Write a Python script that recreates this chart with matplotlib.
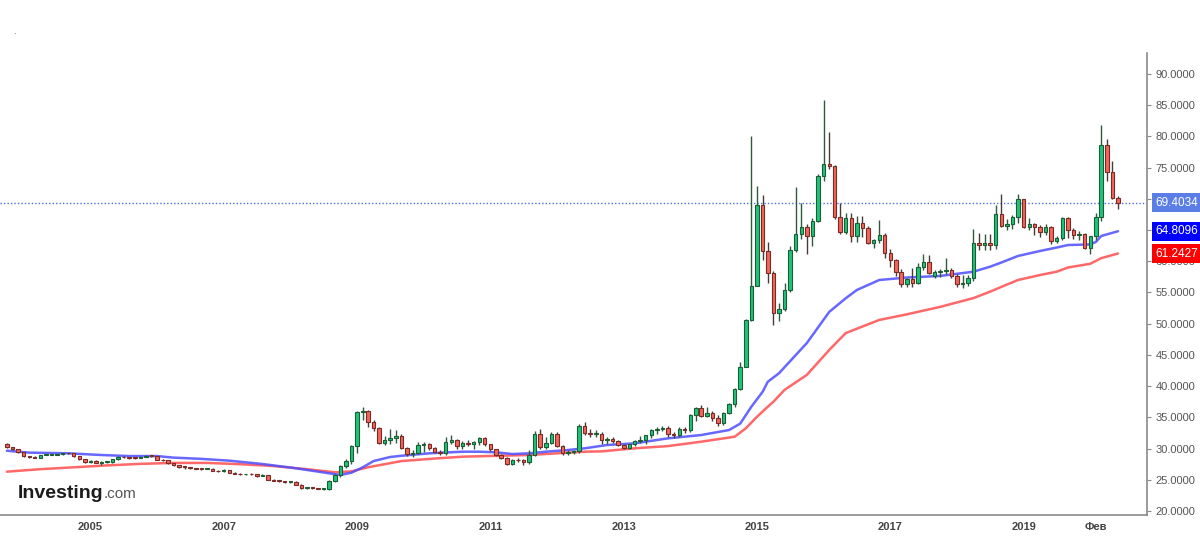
import matplotlib
matplotlib.use("Agg")
import matplotlib.pyplot as plt
import matplotlib.dates as mdates
import pandas as pd
import numpy as np

plt.rcParams['font.family'] = ['Liberation Sans', 'DejaVu Sans']

start_month = "2003-10"
opens = [
    30.70, 30.20, 29.95,
    29.40, 28.75, 28.65, 28.55, 29.00, 29.05, 29.05, 29.15, 29.25, 29.22, 28.75, 28.25,
    27.85, 27.95, 27.75, 27.80, 27.82, 28.25, 28.70, 28.60, 28.55, 28.50, 28.70, 28.85,
    28.80, 28.20, 28.10, 27.70, 27.30, 27.10, 27.05, 26.85, 26.80, 26.75, 26.80, 26.45,
    26.35, 26.50, 26.15, 26.00, 25.85, 25.90, 25.85, 25.65, 25.75, 25.00, 24.85, 24.80,
    24.60, 24.70, 24.20, 23.65, 23.75, 23.65, 23.50, 23.52, 24.85, 25.75, 27.20, 28.00,
    30.35, 35.80, 35.95, 34.20, 33.25, 30.85, 31.40, 31.65, 32.00, 30.10, 29.10, 29.35,
    30.55, 30.70, 30.05, 29.50, 29.25, 31.10, 31.35, 30.40, 30.90, 30.70, 31.05, 31.65,
    30.70, 29.90, 29.00, 28.55, 27.55, 28.20, 28.10, 27.85, 29.00, 32.40, 30.20, 30.95,
    32.40, 30.40, 29.25, 29.40, 29.55, 33.55, 32.45, 32.30, 32.40, 31.40, 31.55, 31.20,
    30.60, 30.15, 30.70, 31.15, 31.40, 32.15, 33.00, 33.10, 33.35, 32.40, 32.20, 33.20,
    32.90, 35.35, 36.50, 35.20, 35.75, 34.95, 34.05, 35.75, 37.10, 39.60, 43.10, 50.60,
    56.10, 69.00, 61.70, 58.20, 51.75, 52.35, 55.40, 61.80, 64.40, 65.55, 64.05, 66.50,
    73.65, 75.60, 75.25, 67.15, 64.75, 66.90, 64.05, 66.10, 65.40, 62.90, 63.40, 64.15,
    61.40, 60.20, 58.35, 56.30, 57.10, 56.55, 59.10, 59.90, 57.60, 58.25, 58.40, 58.55,
    57.70, 56.30, 56.45, 57.25, 63.00, 62.60, 62.90, 62.55, 67.60, 65.65, 65.95, 67.05,
    69.95, 65.55, 65.90, 65.45, 64.75, 65.55, 63.30, 63.80, 66.90, 65.00, 64.15, 64.35,
    62.20, 64.05, 67.05, 78.60, 74.35, 70.10,
]
highs = [
    30.85, 30.30, 30.00,
    29.45, 28.85, 28.75, 29.05, 29.10, 29.15, 29.20, 29.30, 29.30, 29.25, 28.80, 28.30,
    28.20, 28.10, 27.95, 28.00, 28.30, 28.80, 28.85, 28.70, 28.65, 28.75, 28.95, 28.95,
    28.85, 28.30, 28.15, 27.75, 27.40, 27.20, 27.10, 26.95, 26.90, 26.90, 26.85, 26.55,
    26.65, 26.55, 26.20, 26.10, 26.00, 26.05, 25.95, 25.95, 25.80, 25.10, 24.95, 24.85,
    24.80, 24.75, 24.25, 23.80, 23.85, 23.75, 23.60, 24.90, 25.90, 27.40, 28.30, 30.50,
    35.95, 36.70, 36.20, 34.50, 33.50, 32.00, 33.20, 32.90, 32.30, 30.30, 29.80, 31.00,
    31.00, 30.90, 30.20, 29.70, 31.80, 32.10, 31.50, 31.20, 31.30, 31.20, 31.80, 31.90,
    30.80, 30.00, 29.10, 28.60, 28.30, 28.50, 28.30, 29.80, 32.80, 33.10, 31.80, 32.60,
    32.60, 30.50, 29.70, 29.70, 33.90, 34.30, 33.10, 32.90, 32.60, 31.90, 31.80, 31.30,
    30.80, 30.80, 31.40, 32.00, 32.20, 33.10, 33.40, 33.60, 33.60, 32.60, 33.40, 33.50,
    35.60, 36.60, 37.00, 36.60, 36.00, 35.30, 35.90, 37.30, 39.70, 43.90, 50.80, 80.10,
    72.00, 70.60, 63.10, 58.50, 53.30, 56.60, 62.50, 71.85, 69.40, 66.00, 66.90, 74.00,
    85.80, 80.75, 75.50, 69.40, 67.80, 67.80, 67.25, 67.25, 65.70, 63.60, 66.60, 64.50,
    61.90, 60.40, 58.70, 57.40, 58.90, 59.70, 61.20, 61.00, 58.60, 58.80, 60.60, 59.00,
    57.90, 57.80, 57.80, 65.10, 64.50, 64.40, 64.30, 69.00, 70.80, 66.80, 67.40, 70.80,
    70.00, 66.90, 66.20, 65.80, 65.90, 65.70, 64.10, 67.10, 67.15, 65.30, 64.80, 64.50,
    64.10, 67.70, 81.80, 79.55, 76.10, 70.50,
]
lows = [
    30.15, 29.85, 29.30,
    28.60, 28.45, 28.45, 28.50, 28.90, 28.95, 29.00, 29.05, 29.15, 28.70, 28.15, 27.70,
    27.70, 27.70, 27.40, 27.70, 27.75, 28.20, 28.55, 28.40, 28.35, 28.45, 28.65, 28.70,
    28.10, 27.95, 27.60, 27.20, 26.90, 26.80, 26.75, 26.70, 26.60, 26.65, 26.40, 26.25,
    26.30, 26.05, 25.95, 25.75, 25.75, 25.75, 25.50, 25.55, 24.90, 24.80, 24.60, 24.55,
    24.50, 24.15, 23.60, 23.55, 23.60, 23.45, 23.30, 23.40, 24.70, 25.40, 26.90, 27.60,
    29.30, 34.60, 33.40, 32.80, 30.70, 30.50, 30.80, 30.90, 29.90, 28.80, 28.70, 29.20,
    29.40, 29.80, 29.30, 28.90, 28.90, 30.80, 30.00, 29.95, 30.40, 29.90, 30.60, 30.40,
    29.60, 28.80, 28.40, 27.40, 27.30, 27.80, 27.30, 27.60, 28.80, 29.90, 29.90, 30.70,
    30.20, 28.95, 28.90, 29.10, 29.30, 32.20, 31.90, 31.80, 30.70, 30.80, 30.90, 30.40,
    29.90, 30.00, 30.40, 30.90, 30.80, 31.70, 32.40, 32.80, 31.90, 31.70, 31.90, 32.50,
    32.70, 34.40, 35.00, 35.00, 34.40, 33.60, 33.80, 35.50, 36.60, 39.40, 43.00, 50.40,
    56.00, 60.20, 56.50, 49.80, 50.50, 52.00, 55.00, 61.50, 63.50, 61.10, 62.50, 66.30,
    72.90, 74.80, 66.80, 64.40, 64.40, 63.10, 63.10, 63.90, 62.70, 62.10, 62.90, 60.50,
    59.10, 57.60, 55.95, 55.90, 55.80, 56.30, 58.60, 58.00, 57.40, 57.50, 58.00, 57.30,
    55.80, 55.70, 56.00, 56.90, 61.80, 61.80, 61.80, 62.00, 65.50, 65.00, 65.10, 66.20,
    65.30, 65.00, 64.20, 63.95, 64.20, 62.80, 62.90, 63.40, 63.80, 63.50, 63.40, 61.90,
    61.20, 63.40, 66.40, 72.90, 69.90, 68.30,
]
closes = [
    30.20, 29.95, 29.40,
    28.75, 28.65, 28.55, 29.00, 29.05, 29.05, 29.15, 29.25, 29.22, 28.75, 28.25, 27.85,
    27.95, 27.75, 27.80, 27.82, 28.25, 28.70, 28.60, 28.55, 28.50, 28.70, 28.85, 28.80,
    28.20, 28.10, 27.70, 27.30, 27.10, 27.05, 26.85, 26.80, 26.75, 26.80, 26.45, 26.35,
    26.50, 26.15, 26.00, 25.85, 25.90, 25.85, 25.65, 25.75, 25.00, 24.85, 24.80, 24.60,
    24.70, 24.20, 23.65, 23.75, 23.65, 23.50, 23.52, 24.85, 25.75, 27.20, 28.00, 30.35,
    35.80, 35.95, 34.20, 33.25, 30.85, 31.40, 31.65, 32.00, 30.10, 29.10, 29.35, 30.55,
    30.70, 30.05, 29.50, 29.25, 31.10, 31.35, 30.40, 30.90, 30.70, 31.05, 31.65, 30.70,
    29.90, 29.00, 28.55, 27.55, 28.20, 28.10, 27.85, 29.00, 32.40, 30.20, 30.95, 32.40,
    30.40, 29.25, 29.40, 29.55, 33.55, 32.45, 32.30, 32.40, 31.40, 31.55, 31.20, 30.60,
    30.15, 30.70, 31.15, 31.40, 32.15, 33.00, 33.10, 33.35, 32.40, 32.20, 33.20, 32.90,
    35.35, 36.50, 35.20, 35.75, 34.95, 34.05, 35.75, 37.10, 39.60, 43.10, 50.60, 56.10,
    69.00, 61.70, 58.20, 51.75, 52.35, 55.40, 61.80, 64.40, 65.55, 64.05, 66.50, 73.65,
    75.60, 75.25, 67.15, 64.75, 66.90, 64.05, 66.10, 65.40, 62.90, 63.40, 64.15, 61.40,
    60.20, 58.35, 56.30, 57.10, 56.55, 59.10, 59.90, 58.10, 58.30, 58.40, 58.55, 57.70,
    56.30, 56.45, 57.25, 63.00, 62.60, 62.90, 62.55, 67.60, 65.65, 65.95, 67.05, 69.95,
    65.55, 65.90, 65.45, 64.75, 65.55, 63.30, 63.80, 66.90, 65.00, 64.15, 64.35, 62.20,
    64.05, 67.05, 78.60, 74.35, 70.10, 69.4034,
]

# moving-average lines
blue_ma_dates = ["2003-10", "2004-02", "2004-09", "2005-03", "2005-08", "2006-01", "2006-04",
                 "2006-09", "2007-02", "2007-08", "2008-02", "2008-08", "2008-10", "2008-12",
                 "2009-02", "2009-04", "2009-07", "2009-09", "2010-02", "2010-08", "2010-11",
                 "2011-02", "2011-05", "2011-08", "2011-11", "2012-03", "2012-06", "2012-10",
                 "2013-03", "2013-09", "2014-03", "2014-08", "2014-10", "2014-12", "2015-02",
                 "2015-03", "2015-05", "2015-10", "2016-02", "2016-05", "2016-07", "2016-11",
                 "2017-01", "2017-04", "2017-10", "2018-04", "2018-07", "2018-09", "2018-12",
                 "2019-04", "2019-07", "2019-09", "2020-01", "2020-02", "2020-03", "2020-06"]
blue_ma_values = [29.65, 29.35, 29.24, 28.97, 28.80, 28.80, 28.55,
                  28.35, 28.06, 27.53, 26.84, 26.04, 25.77, 26.14,
                  27.00, 28.00, 28.65, 28.85, 29.24, 29.50, 29.50,
                  29.40, 29.13, 29.24, 29.50, 29.77, 30.04, 30.57,
                  30.84, 31.64, 32.17, 32.97, 34.00, 36.70, 39.10,
                  40.70, 42.05, 46.90, 51.90, 54.07, 55.40, 57.00,
                  57.16, 57.40, 57.65, 58.33, 59.13, 59.80, 60.85,
                  61.65, 62.20, 62.60, 62.70, 63.10, 64.05, 64.8096]

red_ma_dates = ["2003-10", "2004-04", "2004-10", "2005-04", "2005-10", "2006-04", "2006-10",
                "2007-04", "2007-10", "2008-04", "2008-09", "2008-12", "2009-03", "2009-09",
                "2010-03", "2010-08", "2011-08", "2012-06", "2012-09", "2013-03", "2013-09",
                "2014-03", "2014-09", "2014-11", "2015-01", "2015-03", "2015-04", "2015-06",
                "2015-10", "2016-02", "2016-05", "2016-11", "2017-04", "2017-10", "2018-04",
                "2018-07", "2018-09", "2018-12", "2019-04", "2019-07", "2019-09", "2020-01",
                "2020-03", "2020-06"]
red_ma_values = [26.30, 26.70, 27.00, 27.30, 27.55, 27.70, 27.70,
                 27.50, 27.20, 26.70, 26.20, 26.35, 27.00, 28.00,
                 28.40, 28.70, 28.97, 29.50, 29.55, 30.04, 30.40,
                 31.10, 31.90, 33.25, 35.10, 36.70, 37.50, 39.40,
                 41.80, 45.80, 48.50, 50.60, 51.50, 52.70, 54.10,
                 55.13, 55.90, 57.00, 57.80, 58.33, 59.00, 59.60,
                 60.50, 61.2427]

year_ticks = ["2005-01", "2007-01", "2009-01", "2011-01", "2013-01", "2015-01", "2017-01",
              "2019-01", "2020-02"]
year_labels = ["2005", "2007", "2009", "2011", "2013", "2015", "2017", "2019", "Фев"]
y_ticks = [20, 25, 30, 35, 40, 45, 50, 55, 60, 65, 70, 75, 80, 85, 90]
# tick labels covered by the value tags in the reference
y_hidden = [65, 70]

# ---------------------------------------------------------------
W, H = 1200, 537
fig = plt.figure(figsize=(W / 100, H / 100), dpi=100)
ax = fig.add_axes([0.0, 1 - 515 / H, 1147 / W, (515 - 53) / H])

def to_num(seq):
    return mdates.date2num(pd.to_datetime(seq, format="%Y-%m"))

dates = pd.date_range(start=start_month, periods=len(closes), freq="MS")
x = mdates.date2num(dates)
o = np.array(opens)
h = np.array(highs)
l = np.array(lows)
c = np.array(closes)
up = c >= o

green_fill, green_edge = "#1fc47a", "#1b5e35"
red_fill, red_edge = "#f0675d", "#7c2a25"

ax.vlines(x, l, h, colors=np.where(up, "#2f5a3e", "#4a3a36"), linewidth=1.0, zorder=3)
bottoms = np.minimum(o, c)
heights = np.maximum(np.abs(c - o), 0.13)
ax.bar(x, heights, bottom=bottoms, width=19,
       color=np.where(up, green_fill, red_fill),
       edgecolor=np.where(up, green_edge, red_edge), linewidth=0.8, zorder=4)

bx = to_num(blue_ma_dates)
rx = to_num(red_ma_dates)
ax.plot(rx, red_ma_values, color="#ff4d4d", lw=1.8, alpha=0.85, zorder=2,
        solid_capstyle="round", solid_joinstyle="round")
ax.plot(bx, blue_ma_values, color="#4d4dff", lw=1.8, alpha=0.85, zorder=2,
        solid_capstyle="round", solid_joinstyle="round")

last = closes[-1]
ax.axhline(last, color="#4a6fe8", lw=1.0, ls=(0, (1, 1.5)), zorder=1)

ax.set_xlim(mdates.date2num(pd.Timestamp("2003-08-24")), mdates.date2num(pd.Timestamp("2020-11-07")))
ax.set_ylim(19.36, 93.36)

for s in ["left", "top"]:
    ax.spines[s].set_visible(False)
for s in ["right", "bottom"]:
    ax.spines[s].set_color("#8a8a8a")
    ax.spines[s].set_linewidth(1.2)

ax.yaxis.tick_right()
ax.set_yticks(y_ticks)
ax.set_yticklabels(["" if v in y_hidden else f"{v:.4f}" for v in y_ticks])
ax.tick_params(axis="y", direction="out", length=3, color="#8a8a8a", labelsize=8,
               labelcolor="#555555", pad=3)
ax.set_xticks(to_num(year_ticks))
ax.set_xticklabels(year_labels, fontweight="bold")
ax.tick_params(axis="x", direction="out", length=0, labelsize=8, labelcolor="#444444", pad=5)

# value tags on the price axis
def tag(val, bg):
    ax.annotate(f"{val:.4f}", xy=(1.0, val), xycoords=("axes fraction", "data"),
                xytext=(6, 0), textcoords="offset points", va="center", ha="left",
                fontsize=8.5, color="white", zorder=10, annotation_clip=False,
                bbox=dict(boxstyle="square,pad=0.3", fc=bg, ec="none"))

tag(last, "#5b7ee6")
tag(blue_ma_values[-1], "#0000ff")
tag(red_ma_values[-1], "#ff0000")

# watermark logo: ".com" placed right after the measured end of "Investing"
logo = fig.text(18 / W, 1 - 498 / H, "Investing", fontsize=14, fontweight="bold",
                color="#1b1b1b", va="baseline", ha="left")
renderer = fig.canvas.get_renderer()
bb = logo.get_window_extent(renderer=renderer)
fig.text(bb.x1 / W + 0.5 / W, 1 - 498 / H, ".com", fontsize=11, color="#555555",
         va="baseline", ha="left")
fig.text(13 / W, 1 - 33 / H, ".", fontsize=6, color="#333333", va="center", ha="left")

fig.savefig("out.png", dpi=100, facecolor="white")
